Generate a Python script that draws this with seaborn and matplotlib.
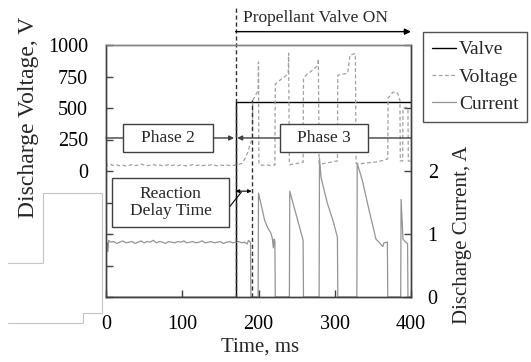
import matplotlib
matplotlib.use("Agg")
import matplotlib.pyplot as plt
from matplotlib.lines import Line2D
from matplotlib.patches import Rectangle
import seaborn as sns

sns.set_theme(style="ticks")
plt.rcParams['font.family'] = ['Liberation Serif', 'DejaVu Serif']

# Discharge voltage, V  (time in ms)
volt_time = [0, 2, 6, 10, 14, 18, 22, 26, 30, 34, 38, 42, 46, 50, 54, 58, 62, 66, 70, 74,
             78, 82, 86, 90, 94, 98, 102, 106, 110, 114, 118, 122, 126, 130, 134, 138, 142,
             146, 150, 154, 158, 162, 166, 170, 174, 178, 182, 186, 190, 192, 192.5, 196,
             199.5, 200, 200.5, 205, 210, 215, 221.5, 222, 228, 234, 239, 239.5, 240.5, 246,
             252, 258.5, 259, 264, 271, 278, 278.5, 279.5, 285, 292, 298, 303.5, 304, 310,
             317, 320, 327, 328, 335, 345, 355, 362, 369.5, 370, 373, 376, 380, 383, 385.5,
             386, 389, 389.5, 393, 396, 396.5, 400]
volt_value = [68, 45, 52, 44, 48, 42, 46, 40, 45, 50, 43, 47, 55, 48, 42, 46, 52, 44, 48, 42,
              46, 50, 44, 47, 42, 48, 45, 40, 46, 50, 44, 47, 42, 46, 44, 50, 45,
              42, 47, 44, 48, 43, 46, 44, 52, 60, 95, 150, 230, 250, 560, 600,
              640, 865, 55, 45, 50, 44, 48, 690, 720, 745, 775, 935, 50, 55,
              62, 70, 735, 770, 800, 840, 890, 60, 58, 66, 74, 80, 760, 768,
              776, 920, 932, 60, 58, 66, 72, 82, 96, 580, 600, 624, 630, 610, 560,
              80, 80, 500, 505, 500, 80, 75]

# Discharge current, A
curr_time = [0, 1.5, 2.5, 3.5, 6, 10, 14, 18, 22, 26, 30, 34, 38, 42, 46, 50, 54, 58, 62, 66,
             70, 74, 78, 82, 86, 90, 94, 98, 102, 106, 110, 114, 118, 122, 126, 130, 134, 138,
             142, 146, 150, 154, 158, 162, 166, 170, 174, 178, 182, 185, 187, 189.5, 190,
             199.5, 200, 203, 208, 212, 216, 218, 219.5, 220.5, 221.5, 222,
             240.5, 241, 258.5, 259,
             279.5, 280, 282, 290, 298, 303.5, 304,
             329, 329.5, 336, 345, 354, 358, 363, 364.5, 369, 369.5,
             386.5, 387, 389.5, 393, 395.5, 396, 400]
curr_value = [0.88, 0.86, 0.72, 0.90, 0.87, 0.88, 0.85, 0.87, 0.89, 0.86, 0.87, 0.88, 0.85, 0.87,
              0.89, 0.86, 0.88, 0.87, 0.90, 0.86, 0.88, 0.87, 0.85, 0.88, 0.87, 0.86, 0.88, 0.87,
              0.89, 0.86, 0.87, 0.88, 0.86, 0.87, 0.89, 0.86, 0.87, 0.88, 0.86, 0.87, 0.88, 0.85,
              0.87, 0.88, 0.86, 0.87, 0.88, 0.86, 0.87, 0.84, 0.90, 0.86, 0,
              0, 1.65, 1.49, 1.22, 1.10, 1.02, 0.94, 0.78, 0.92, 0.88, 0,
              0, 1.68, 0.90, 0,
              0, 2.20, 1.90, 1.50, 1.20, 0.95, 0,
              0, 2.12, 1.86, 1.38, 0.92, 0.87, 0.80, 0.86, 0.87, 0,
              0, 1.55, 0.92, 0.87, 0.85, 0, 0]

# Valve signal
valve_time = [0, 170, 170, 400]
valve_value = [0, 0, 3.1, 3.1]

W, H = 531, 362
fig = plt.figure(figsize=(W / 100, H / 100), dpi=100)
ax = fig.add_axes([106 / W, 1 - 297 / H, 305 / W, 252 / H])
ax2 = ax.twinx()
ax.set_zorder(ax2.get_zorder() + 1)
ax.patch.set_visible(False)

sns.lineplot(x=valve_time, y=valve_value, ax=ax2, color='black', lw=1.0,
             estimator=None, sort=False, label='Valve')
sns.lineplot(x=curr_time, y=curr_value, ax=ax2, color='#949494', lw=0.9,
             estimator=None, sort=False, label='Current')
sns.lineplot(x=volt_time, y=volt_value, ax=ax, color='#a0a0a0', lw=0.9,
             estimator=None, sort=False, label='Voltage', linestyle=(0, (3, 2)))
ax.get_legend().remove()
ax2.get_legend().remove()

ax.set_xlim(0, 400)
ax.set_ylim(-1000, 1000)
ax2.set_ylim(0, 4)
ax.set_xticks([0, 100, 200, 300, 400])
ax.set_yticks(range(-1000, 1001, 250))
ax.set_yticklabels(['' if v < 0 else str(v) for v in range(-1000, 1001, 250)])
ax2.set_yticks([0, 1, 2, 3, 4])
ax2.set_yticklabels(['0', '1', '2', '', ''])
ax.set_xlabel('')
ax.set_ylabel('')
ax2.set_ylabel('')

ax.tick_params(axis='both', direction='in', length=5, width=1, colors='#404040',
               labelcolor='black', labelsize=14.5, pad=13)
ax2.tick_params(axis='y', direction='in', length=5, width=1, colors='#404040',
                labelcolor='black', labelsize=14.5, pad=12)
for a in (ax, ax2):
    for name, sp in a.spines.items():
        sp.set_linewidth(1.0)
        sp.set_color('#808080' if name == 'top' else '#404040')

# vertical markers
ax.plot([170, 170], [-1000, 1300], color='#303030', lw=1, ls=(0, (3, 2)), clip_on=False)
ax.plot([191, 191], [-1000, 560], color='#303030', lw=1, ls=(0, (3, 2)))

# Propellant Valve ON
ax.annotate('', xy=(400, 1106), xytext=(170, 1106), annotation_clip=False,
            arrowprops=dict(arrowstyle='-|>', color='black', lw=1, mutation_scale=9,
                            shrinkA=0, shrinkB=0))
ax.text(180, 1215, 'Propellant Valve ON', fontsize=12.5, ha='left', va='center')

# phase arrows
arrow_kw = dict(arrowstyle='-|>', color='#404040', lw=1, mutation_scale=7, shrinkA=0, shrinkB=0)
ax.annotate('', xy=(168, 262), xytext=(0, 262), arrowprops=arrow_kw)
ax.annotate('', xy=(172, 262), xytext=(400, 262), arrowprops=arrow_kw)
box_kw = dict(facecolor='white', edgecolor='#404040', lw=1, zorder=5)
ax.add_patch(Rectangle((22.4, 152), 118.4, 224, **box_kw))
ax.add_patch(Rectangle((227.6, 152), 115.8, 224, **box_kw))
ax.text(81.6, 262, 'Phase 2', fontsize=12.5, ha='center', va='center', zorder=6)
ax.text(285.5, 262, 'Phase 3', fontsize=12.5, ha='center', va='center', zorder=6)

# reaction delay
ax.annotate('', xy=(170, -160), xytext=(191, -160),
            arrowprops=dict(arrowstyle='<|-|>', color='black', lw=0.8, mutation_scale=5,
                            shrinkA=0, shrinkB=0))
ax.plot([160.5, 177.5], [-296, -168], color='black', lw=0.8)
ax.add_patch(Rectangle((7.9, -448), 153.9, 392, **box_kw))
ax.text(84.8, -252, 'Reaction\nDelay Time', fontsize=12.5, ha='center', va='center',
        linespacing=1.1, zorder=6)

# axis titles
fig.text(29 / W, 1 - 117 / H, 'Discharge Voltage, V', rotation=90, fontsize=17,
         ha='center', va='center')
fig.text(462 / W, 1 - 235 / H, 'Discharge Current, A', rotation=90, fontsize=15,
         ha='center', va='center')
fig.text(260 / W, 1 - 347 / H, 'Time, ms', fontsize=15, ha='center', va='center')

# legend
handles = [Line2D([], [], color='black', lw=1.0),
           Line2D([], [], color='#a0a0a0', lw=0.9, ls=(0, (3, 2))),
           Line2D([], [], color='#949494', lw=0.9)]
fig.legend(handles, ['Valve', 'Voltage', 'Current'], loc='upper left',
           bbox_to_anchor=(423 / W, 1 - 32 / H), frameon=True, fancybox=False,
           edgecolor='#505050', fontsize=14, handlelength=1.25, handletextpad=0.15,
           labelspacing=0.5, borderpad=0.45, borderaxespad=0, framealpha=1)

# light grey stray lines on the left
def px_line(xs, ys):
    fig.add_artist(Line2D([x / W for x in xs], [1 - y / H for y in ys],
                          transform=fig.transFigure, color='#c4c4c4', lw=0.8))

px_line([8, 43, 43, 102, 102], [263, 263, 193, 193, 313])
px_line([8, 83, 83, 102], [323, 323, 313, 313])

fig.savefig('out.png', dpi=100)
